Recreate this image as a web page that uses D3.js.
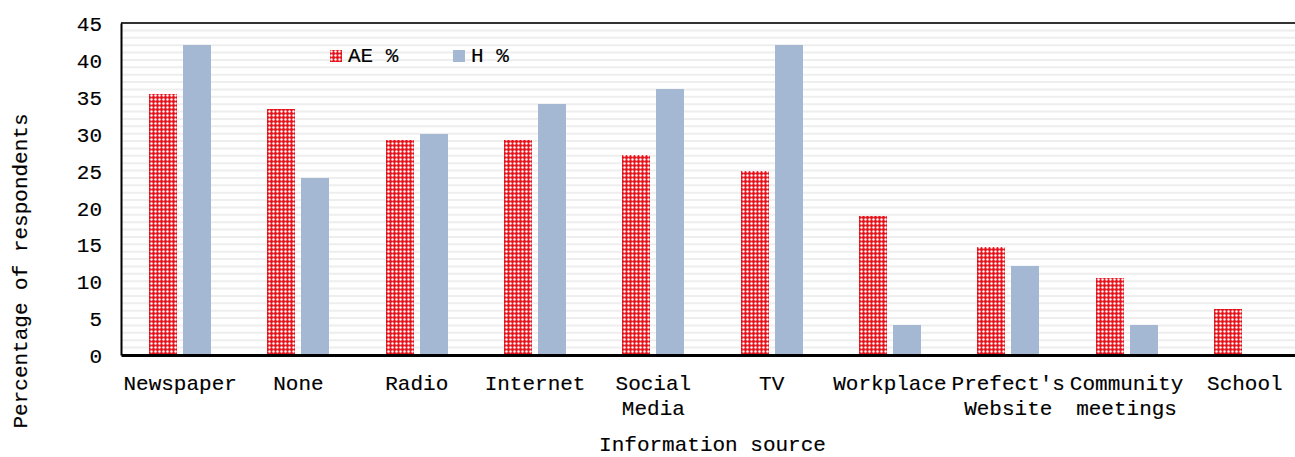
<!DOCTYPE html>
<html>
<head>
<meta charset="utf-8">
<script src="https://cdn.jsdelivr.net/npm/d3@7"></script>
<style>
  html, body { margin: 0; padding: 0; background: #ffffff; }
  svg { display: block; }
  text { font-family: "Liberation Mono", "DejaVu Sans Mono", monospace; fill: #000; stroke: #000; stroke-width: 0.15px; }
</style>
</head>
<body>
<svg id="chart" width="1295" height="457"></svg>
<script>
// Information sources and the share of respondents (%) in each group
const categories = ["Newspaper", "None", "Radio", "Internet", "Social Media", "TV",
                    "Workplace", "Prefect's Website", "Community meetings", "School"];
const tickLabels = [["Newspaper"], ["None"], ["Radio"], ["Internet"], ["Social", "Media"], ["TV"],
                    ["Workplace"], ["Prefect's", "Website"], ["Community", "meetings"], ["School"]];
const aeValues = [35.4, 33.3, 29.2, 29.2, 27.1, 25.0, 18.8, 14.6, 10.4, 6.3];
const hValues  = [42, 24, 30, 34, 36, 42, 4, 12, 4, 0];
const seriesNames = ["AE %", "H %"];
const yTicks = [0, 5, 10, 15, 20, 25, 30, 35, 40, 45];

const FONT = 21;
const svg = d3.select("#chart");

const plot = { left: 121, right: 1304, top: 23, bottom: 355 };

const x0 = d3.scaleBand().domain(categories).range([plot.left, plot.right]).paddingInner(0).paddingOuter(0);
const x1 = d3.scaleBand().domain(seriesNames).range([-31, 31]).paddingInner(0.2);
const y = d3.scaleLinear().domain([0, 45]).range([plot.bottom, plot.top]);

// Small-cross texture for the AE series, one pixel per cell
const tile = [
  "abac",
  "bbbd",
  "abac",
  "cdcw"
];
const tileColors = { a: "#f2555b", b: "#e3121b", c: "#f7b3b5", d: "#ea2f36", w: "#ffffff" };
const defs = svg.append("defs");
const pat = defs.append("pattern")
  .attr("id", "aeFill").attr("patternUnits", "userSpaceOnUse")
  .attr("width", 4).attr("height", 4);
tile.forEach((row, r) => row.split("").forEach((ch, c) => {
  pat.append("rect").attr("x", c).attr("y", r).attr("width", 1).attr("height", 1)
    .attr("fill", tileColors[ch]).attr("shape-rendering", "crispEdges");
}));

const colors = { "AE %": "url(#aeFill)", "H %": "#a4b8d4" };

// Minor gridlines every 1 %
const grid = d3.range(1, 46);
svg.append("g").selectAll("line").data(grid).join("line")
  .attr("x1", plot.left).attr("x2", plot.right)
  .attr("y1", d => y(d)).attr("y2", d => y(d))
  .attr("stroke", "#eeeeee").attr("stroke-width", 2);

// Top border of the plot area
svg.append("line")
  .attr("x1", plot.left).attr("x2", plot.right)
  .attr("y1", y(45)).attr("y2", y(45))
  .attr("stroke", "#333").attr("stroke-width", 2);

// Bars
const groups = svg.append("g").selectAll("g").data(categories).join("g")
  .attr("transform", d => `translate(${Math.round(x0(d) + x0.bandwidth() / 2)},0)`);

groups.selectAll("rect")
  .data((d, i) => [{ s: "AE %", v: aeValues[i] }, { s: "H %", v: hValues[i] }])
  .join("rect")
  .attr("x", d => Math.round(x1(d.s)))
  .attr("width", Math.round(x1.bandwidth()))
  .attr("y", d => y(d.v))
  .attr("height", d => y(0) - y(d.v))
  .attr("fill", d => colors[d.s])
  .attr("shape-rendering", "crispEdges");

// Y axis
const yAxis = svg.append("g").attr("transform", `translate(${plot.left},0)`)
  .call(d3.axisLeft(y).tickValues(yTicks).tickSize(0).tickPadding(19));
yAxis.select(".domain").attr("stroke", "#000").attr("stroke-width", 2);
yAxis.selectAll("text").style("font-size", FONT + "px").attr("dy", "0.36em")
  .style("font-family", "'Liberation Mono', monospace");

// X axis
const xAxis = svg.append("g").attr("transform", `translate(0,${plot.bottom})`)
  .call(d3.axisBottom(x0).tickSize(0).tickFormat(""));
xAxis.select(".domain").attr("stroke", "#000").attr("stroke-width", 3);

xAxis.selectAll(".tick").each(function (d, i) {
  const t = d3.select(this).append("text")
    .attr("text-anchor", "middle")
    .style("font-size", FONT + "px");
  tickLabels[i].forEach((line, k) => {
    t.append("tspan").attr("x", 0).attr("y", 35 + k * 25).text(line);
  });
});

// Axis titles
svg.append("text")
  .attr("x", (plot.left + plot.right) / 2).attr("y", 451)
  .attr("text-anchor", "middle").style("font-size", FONT + "px")
  .text("Information source");

svg.append("text")
  .attr("transform", "translate(27,271) rotate(-90)")
  .attr("text-anchor", "middle").style("font-size", FONT + "px")
  .text("Percentage of respondents");

// Legend
const legend = svg.append("g");
const legendX = [330, 453];
seriesNames.forEach((s, i) => {
  legend.append("rect")
    .attr("x", legendX[i]).attr("y", 50).attr("width", 12).attr("height", 12)
    .attr("fill", colors[s]).attr("shape-rendering", "crispEdges");
  legend.append("text")
    .attr("x", legendX[i] + 18).attr("y", 62)
    .style("font-size", FONT + "px")
    .text(s);
});
</script>
</body>
</html>
